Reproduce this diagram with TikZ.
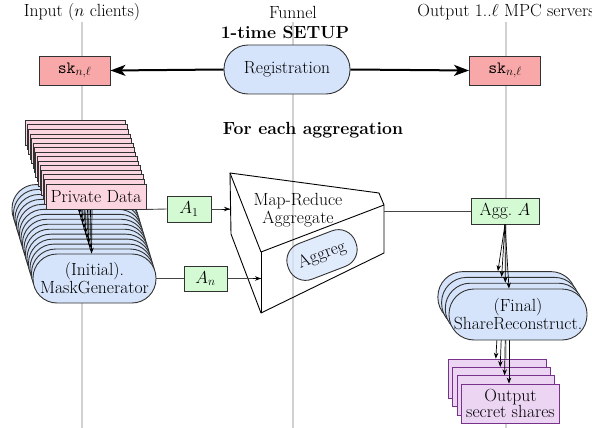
\documentclass[tikz,border=0pt]{standalone}
\usetikzlibrary{arrows.meta}
\pgfdeclarelayer{bg}
\pgfdeclarelayer{fg}
\pgfsetlayers{bg,main,fg}

\definecolor{regblue}{RGB}{214,228,251}
\definecolor{skred}{RGB}{248,168,168}
\definecolor{datapink}{RGB}{251,213,224}
\definecolor{sharegreen}{RGB}{212,250,212}
\definecolor{outfill}{RGB}{236,212,243}
\definecolor{outdraw}{RGB}{120,50,140}
\definecolor{edgegray}{RGB}{50,50,50}
\definecolor{conngray}{RGB}{70,70,70}

\begin{document}
\begin{tikzpicture}[x=1pt,y=-1pt,
  font=\fontsize{17.6}{18}\selectfont,
  lane/.style={draw=black!18, line width=1.5pt},
  box/.style={draw=edgegray, line width=0.9pt, inner sep=0pt, align=center},
  skbox/.style={box, fill=skred, minimum width=71pt, minimum height=29pt},
  regpill/.style={box, fill=regblue, rounded corners=24pt, minimum width=126pt, minimum height=49pt},
  maskpill/.style={box, fill=regblue, rounded corners=24pt, minimum width=123pt, minimum height=49pt},
  datarect/.style={box, fill=datapink, minimum width=100pt, minimum height=25pt},
  sharebox/.style={box, fill=sharegreen},
  recpill/.style={box, fill=regblue, rounded corners=25pt, minimum width=138pt, minimum height=51pt},
  outrect/.style={box, draw=outdraw, fill=outfill, minimum width=97.6pt, minimum height=39.3pt,
    font=\fontsize{17.6}{16}\selectfont},
  bigarrow/.style={line width=2pt, -{Stealth[length=15pt,width=11pt,inset=4pt]}},
  conn/.style={draw=conngray, line width=0.9pt},
  tip/.style={-{Stealth[length=6pt,width=4.5pt]}, draw=black, line width=0.7pt},
  funnelline/.style={draw=black, line width=0.9pt}
]
\useasboundingbox (0,0) rectangle (592,428);

% swim lanes
\begin{pgfonlayer}{bg}
  \coordinate (laneInTop) at (82,22);   \coordinate (laneInBot) at (82,428);
  \coordinate (laneFuTop) at (293,22);  \coordinate (laneFuBot) at (293,428);
  \coordinate (laneOutTop) at (506,22); \coordinate (laneOutBot) at (506,428);
  \draw[lane] (laneInTop) -- (laneInBot);
  \draw[lane] (laneFuTop) -- (laneFuBot);
  \draw[lane] (laneOutTop) -- (laneOutBot);
\end{pgfonlayer}

% lane headers
\node (hIn) at (82,12) {Input ($n$ clients)};
\node (hFu) at (293,12) {Funnel};
\node (hOut) at (506,12) {Output 1..$\ell$ MPC servers};
\node (hSetup) at (285,32) {\textbf{1-time SETUP}};
\node (hAgg) at (313,130) {\textbf{For each aggregation}};

% one-time setup
\node[regpill] (reg) at (287,69.5) {Registration};
\node[skbox] (skL) at (74.5,70.5) {$\mathtt{sk}_{n,\ell}$};
\node[skbox] (skR) at (505,70.5) {$\mathtt{sk}_{n,\ell}$};
\draw[bigarrow] (reg.west) -- (skL.east);
\draw[bigarrow] (reg.east) -- (skR.west);

% clients: mask generators (back to front)
\foreach \i in {14,...,1} {
  \node[maskpill] (mg\i) at ({94.5-1.5*\i},{278.5-4.96*\i}) {};
}
\node[maskpill] (mg0) at (94.5,278.5) {(Initial).\\MaskGenerator};

% clients: private data (back to front)
\begin{pgfonlayer}{fg}
  \foreach \i in {14,...,1} {
    \node[datarect] (pd\i) at ({96-1.45*\i},{196.5-4.55*\i}) {};
  }
  \node[datarect] (pd0) at (96,196.5) {Private Data};
\end{pgfonlayer}

% private data feeds each mask generator
\foreach \i in {0,...,14} {
  \draw[tip] ([xshift=-4pt]pd\i.south) -- ([xshift=-3pt]mg\i.north);
}

% funnel prism
\coordinate (f1) at (230,173);
\coordinate (f2) at (379,193);
\coordinate (f3) at (384,205);
\coordinate (f4) at (384,253);
\coordinate (f5) at (261,313);
\coordinate (f6) at (261,252);
\coordinate (f7) at (231,234);
\draw[funnelline, line join=round] (f1) -- (f2) -- (f3) -- (f4) -- (f5) -- (f7) -- cycle;
\draw[funnelline, line join=round] (f1) -- (f6) -- (f3);
\draw[funnelline] (f6) -- (f5);
\node[align=center] (mapred) at (298,210) {Map-Reduce\\Aggregate};
\node[box, fill=regblue, fill opacity=0.75, text opacity=1, rounded corners=18pt,
      minimum width=72pt, minimum height=38pt, rotate=21] (aggreg) at (322,255) {Aggreg};

% client shares into the funnel
\node[sharebox, minimum width=44pt, minimum height=26pt] (a1) at (189,209) {$A_1$};
\node[sharebox, minimum width=43pt, minimum height=25pt] (an) at (205.5,278.5) {$A_n$};
\draw[conn] (pd0.south east) -- (a1.west);
\draw[conn] (a1.east) -- (a1.east -| f1);
\draw[tip] ([xshift=-8pt]a1.east -| f1) -- (a1.east -| f1);
\draw[conn] (mg0.east) -- (an.west);
\draw[conn] (an.east) -- (an.east -| f6);
\draw[tip] ([xshift=-8pt]an.east -| f6) -- (an.east -| f6);

% aggregate out of the funnel
\node[sharebox, minimum width=68pt, minimum height=26pt] (agg) at (505,211) {Agg.~$A$};
\draw[conn] (agg.west -| f3) -- (agg.west);

% output shares (back to front)
\foreach \i in {3,...,1} {
  \node[outrect] (out\i) at ({510.5-4.4*\i},{403.7-8.3*\i}) {};
}
\node[outrect] (out0) at (510.5,403.7) {Output\\secret shares};

% share reconstruction (back to front)
\begin{pgfonlayer}{fg}
  \foreach \i in {3,...,1} {
    \node[recpill] (sr\i) at ({518-3.7*\i},{314.5-5.8*\i}) {};
  }
  \node[recpill] (sr0) at (518,314.5) {(Final)\\ShareReconstruct.};
  \foreach \i in {0,...,3} {
    \draw[tip] (agg.south) -- ([xshift=-9pt]sr\i.north);
  }
\end{pgfonlayer}

\foreach \i in {0,...,3} {
  \draw[tip] ([xshift=-9pt]sr\i.south) -- ([xshift=-1.5pt]out\i.north);
}
\end{tikzpicture}
\end{document}
